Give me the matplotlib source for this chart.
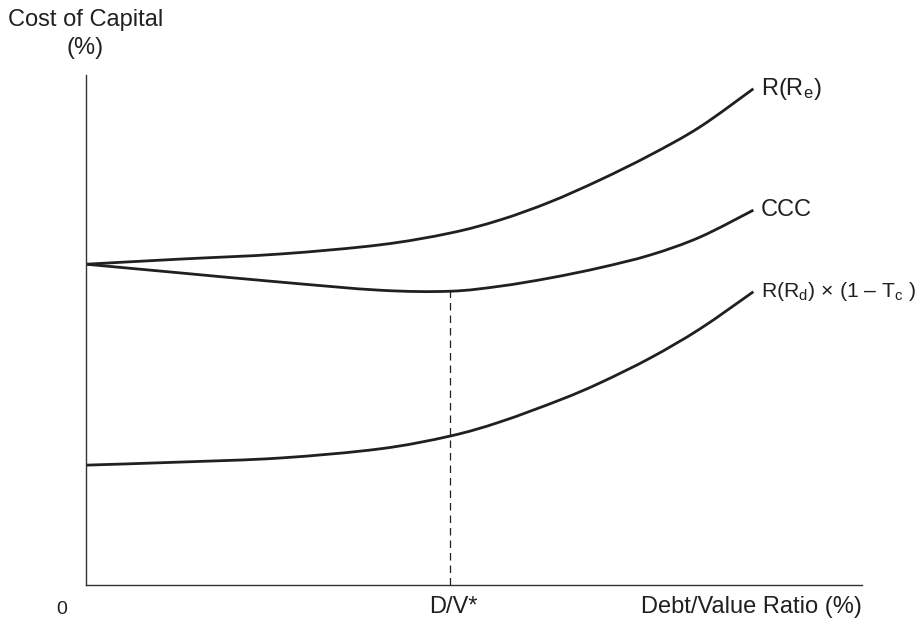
import matplotlib
matplotlib.use("Agg")
import matplotlib.pyplot as plt
from matplotlib.path import Path
from matplotlib.patches import PathPatch

FONT = ["Liberation Sans", "DejaVu Sans"]
plt.rcParams["font.family"] = FONT
plt.rcParams["mathtext.fontset"] = "custom"
plt.rcParams["mathtext.rm"] = "Liberation Sans"
plt.rcParams["mathtext.it"] = "Liberation Sans"

# Debt/Value ratio positions (axis 0..100) and cost-of-capital levels (axis 0..100)
x_re = [0, 12.1, 25.0, 37.9, 46.9, 53.4, 59.8, 66.2, 72.7, 79.1, 86.0]
y_re = [62.9, 63.9, 64.9, 66.7, 69.0, 71.6, 75.1, 79.4, 84.3, 89.8, 97.3]

x_ccc = [0, 12.1, 25.0, 37.9, 46.9, 53.4, 59.8, 66.2, 72.7, 79.1, 86.0]
y_ccc = [62.9, 61.2, 59.4, 57.8, 57.6, 58.6, 60.2, 62.2, 64.7, 68.2, 73.5]

x_rd = [0, 12.1, 25.0, 37.9, 46.9, 53.4, 61.1, 66.2, 72.7, 79.1, 86.0]
y_rd = [23.5, 24.1, 24.9, 26.7, 29.2, 32.0, 36.3, 39.6, 44.5, 50.2, 57.5]

dv_star = 46.9
ccc_min = 57.6

labels = ["R(R$_{\\mathrm{e}}$)", "CCC", "R(R$_{\\mathrm{d}}$) \u00d7 (1 \u2013 T$_{\\mathrm{c}}$ )"]


def smooth_path(xs, ys):
    pts = list(zip(xs, ys))
    n = len(pts)
    verts = [pts[0]]
    codes = [Path.MOVETO]
    for i in range(n - 1):
        p0 = pts[i - 1] if i > 0 else pts[i]
        p1 = pts[i]
        p2 = pts[i + 1]
        p3 = pts[i + 2] if i + 2 < n else pts[i + 1]
        c1 = (p1[0] + (p2[0] - p0[0]) / 6, p1[1] + (p2[1] - p0[1]) / 6)
        c2 = (p2[0] - (p3[0] - p1[0]) / 6, p2[1] - (p3[1] - p1[1]) / 6)
        verts += [c1, c2, p2]
        codes += [Path.CURVE4] * 3
    return Path(verts, codes)


W, H = 921, 627
fig = plt.figure(figsize=(W / 100, H / 100), dpi=100)
ax = fig.add_axes([86 / W, (H - 585) / H, 776 / W, 510 / H])
ax.set_xlim(0, 100)
ax.set_ylim(0, 100)
for s in ["top", "right"]:
    ax.spines[s].set_visible(False)
for s in ["left", "bottom"]:
    ax.spines[s].set_linewidth(1.0)
    ax.spines[s].set_color("#333333")
ax.set_xticks([])
ax.set_yticks([])

lw = 2.0
col = "#231f20"
for xs, ys in [(x_re, y_re), (x_ccc, y_ccc), (x_rd, y_rd)]:
    ax.add_patch(PathPatch(smooth_path(xs, ys), facecolor="none", edgecolor=col,
                           lw=lw, capstyle="butt", transform=ax.transData))
ax.plot([dv_star, dv_star], [0, ccc_min], color=col, lw=0.9, dashes=(6, 4))

fs = 17
ax.text(x_re[-1] + 1.0, y_re[-1], labels[0], fontsize=fs, va="center", ha="left", color=col)
ax.text(x_ccc[-1] + 1.0, y_ccc[-1], labels[1], fontsize=fs, va="center", ha="left", color=col)
ax.text(x_rd[-1] + 1.0, y_rd[-1], labels[2], fontsize=15.3, va="center", ha="left", color=col)

fig.text(8 / W, 1 - 20 / H, "Cost of Capital", fontsize=fs, ha="left", va="center", color=col)
fig.text(85 / W, 1 - 48 / H, "(%)", fontsize=fs, ha="center", va="center", color=col)
fig.text(62 / W, 1 - 609 / H, "0", fontsize=fs - 3, ha="center", va="center", color=col)
fig.text(453 / W, 1 - 607 / H, "D/V*", fontsize=fs, ha="center", va="center", color=col)
fig.text(862 / W, 1 - 607 / H, "Debt/Value Ratio (%)", fontsize=fs, ha="right", va="center", color=col)

fig.savefig("out.png", dpi=100)
